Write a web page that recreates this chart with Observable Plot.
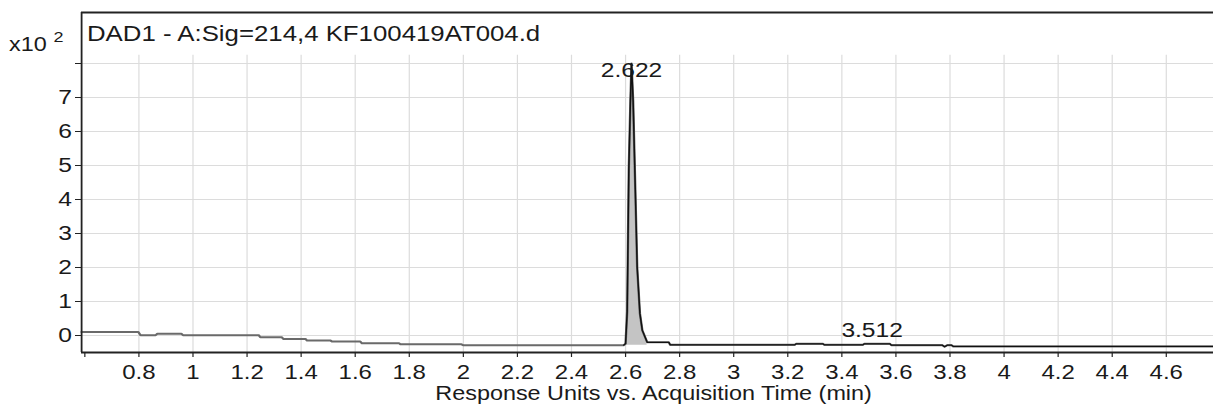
<!DOCTYPE html>
<html>
<head>
<meta charset="utf-8">
<script src="https://cdn.jsdelivr.net/npm/d3@7"></script>
<script src="https://cdn.jsdelivr.net/npm/@observablehq/plot@0.6"></script>
<style>
  html, body { margin: 0; padding: 0; background: #fff; }
  #chart svg { display: block; }
</style>
</head>
<body>
<div id="chart"></div>
<script>
// ---- data ----
const traceTime = [0.588, 0.798, 0.806, 0.862, 0.868, 0.957, 0.963, 1.243, 1.249, 1.328, 1.334, 1.416, 1.422,
  1.509, 1.515, 1.619, 1.625, 1.762, 1.768, 1.993, 1.999, 2.593, 2.600, 2.606, 2.612, 2.618, 2.622, 2.628,
  2.636, 2.643, 2.653, 2.662, 2.680, 2.760, 2.765, 3.226, 3.231, 3.330, 3.335, 3.478, 3.483, 3.578, 3.583,
  3.772, 3.780, 3.790, 3.806, 3.812, 4.775];
const traceValue = [0.10, 0.10, 0.01, 0.01, 0.05, 0.05, 0.01, 0.01, -0.05, -0.05, -0.10, -0.10, -0.15,
  -0.15, -0.18, -0.18, -0.23, -0.23, -0.26, -0.26, -0.285, -0.285, -0.24, 0.70, 4.9, 6.9, 8.0, 6.9,
  4.3, 2.0, 0.65, 0.15, -0.20, -0.20, -0.275, -0.275, -0.245, -0.245, -0.275, -0.275, -0.245, -0.245, -0.285,
  -0.285, -0.33, -0.285, -0.285, -0.32, -0.32];

const peakTime = [2.622, 3.512];
const peakHeight = [8.0, -0.245];
const peakLabel = ["2.622", "3.512"];

const integrationStart = [2.593, 3.226, 3.478, 3.772];
const integrationEnd = [2.765, 3.335, 3.583, 4.775];
const fillStart = 2.593, fillEnd = 2.68, fillBase = -0.285;

const xTicks = [0.6, 0.8, 1, 1.2, 1.4, 1.6, 1.8, 2, 2.2, 2.4, 2.6, 2.8, 3, 3.2, 3.4, 3.6, 3.8, 4, 4.2, 4.4, 4.6];
const xTickLabels = ["", "0.8", "1", "1.2", "1.4", "1.6", "1.8", "2", "2.2", "2.4", "2.6", "2.8", "3", "3.2", "3.4", "3.6", "3.8", "4", "4.2", "4.4", "4.6"];
const yTicks = [0, 1, 2, 3, 4, 5, 6, 7, 8];
const yTickLabels = ["0", "1", "2", "3", "4", "5", "6", "7", ""];

const xDomain = [0.588, 4.775];
const yDomain = [-0.5, 9.5];
const gridTop = 8.24;
const labelMax = 7.41;

const titleText = "DAD1 - A:Sig=214,4 KF100419AT004.d";
const xTitle = "Response Units vs. Acquisition Time (min)";
const yUnit = "x10";
const yExp = "2";

// ---- layout ----
const SX = 1.2;               // horizontal stretch of the reference
const OUT_W = 1213, H = 406;
const W = OUT_W / SX;
const ML = 81 / SX;
const font = "'Liberation Sans', Arial, Helvetica, sans-serif";
const ink = "#1a1a1a";

const trace = traceTime.map((t, i) => ({t, v: traceValue[i]}));
const inWin = t => integrationStart.some((s, i) => t >= s && t <= integrationEnd[i]);
const peaks = peakTime.map((t, i) => ({t, h: peakHeight[i], label: peakLabel[i]}));

const chart = Plot.plot({
  width: W, height: H,
  marginLeft: ML, marginRight: 0, marginTop: 12, marginBottom: 54,
  x: {domain: xDomain, label: null},
  y: {domain: yDomain, label: null},
  style: {fontFamily: font, fontSize: "20px", color: ink, background: "#fff"},
  marks: [
    Plot.ruleY(yTicks, {stroke: "#dcdcdc", strokeWidth: 1.2}),
    Plot.ruleX(xTicks.slice(1), {y1: yDomain[0], y2: gridTop, stroke: "#dcdcdc", strokeWidth: 1}),
    Plot.areaY(trace.filter(d => d.t >= fillStart && d.t <= fillEnd), {x: "t", y1: fillBase, y2: "v", fill: "#c4c4c4"}),
    Plot.line(trace, {x: "t", y: "v", stroke: "#6a6a6a", strokeWidth: 2}),
    Plot.line(trace, {x: "t", y: d => inWin(d.t) ? d.v : NaN, stroke: "#111", strokeWidth: 1.2}),
    Plot.ruleX([xDomain[0]], {stroke: "#222", strokeWidth: 1.5}),
    Plot.ruleY([yDomain[0]], {stroke: "#222", strokeWidth: 2}),
    Plot.ruleY([yDomain[1]], {stroke: "#222", strokeWidth: 2}),
    Plot.axisX({ticks: xTicks, tickFormat: d => xTickLabels[xTicks.indexOf(d)], tickSize: 5, tickPadding: 7.5,
      fontSize: 20, stroke: "#222", fill: ink, label: null}),
    Plot.axisY({ticks: yTicks, tickFormat: d => yTickLabels[yTicks.indexOf(d)], tickSize: 5, tickPadding: 3,
      fontSize: 20.5, stroke: "#222", fill: ink, label: null}),
    Plot.text([titleText], {frameAnchor: "top-left", textAnchor: "start", lineAnchor: "bottom", dx: 4.5, dy: 28.7, fontSize: 21.5, fill: ink}),
    Plot.text([yUnit], {frameAnchor: "top-left", textAnchor: "end", lineAnchor: "bottom", dx: -29, dy: 38, fontSize: 19.5, fill: ink}),
    Plot.text([yExp], {frameAnchor: "top-left", textAnchor: "start", lineAnchor: "bottom", dx: -23.5, dy: 29, fontSize: 15, fill: ink}),
    Plot.text([xTitle], {frameAnchor: "bottom", textAnchor: "middle", lineAnchor: "bottom", dx: 5, dy: 47, fontSize: 19.5, fill: ink}),
    Plot.text(peaks, {x: "t", y: d => Math.min(d.h, labelMax), text: "label", textAnchor: "middle", lineAnchor: "bottom", dy: -7, fontSize: 20.5, fill: ink})
  ]
});

chart.setAttribute("width", OUT_W);
chart.setAttribute("height", H);
chart.setAttribute("viewBox", `0 0 ${W} ${H}`);
chart.setAttribute("preserveAspectRatio", "none");
chart.style.width = OUT_W + "px";
chart.style.height = H + "px";
chart.style.maxWidth = "none";
document.getElementById("chart").appendChild(chart);
</script>
</body>
</html>
